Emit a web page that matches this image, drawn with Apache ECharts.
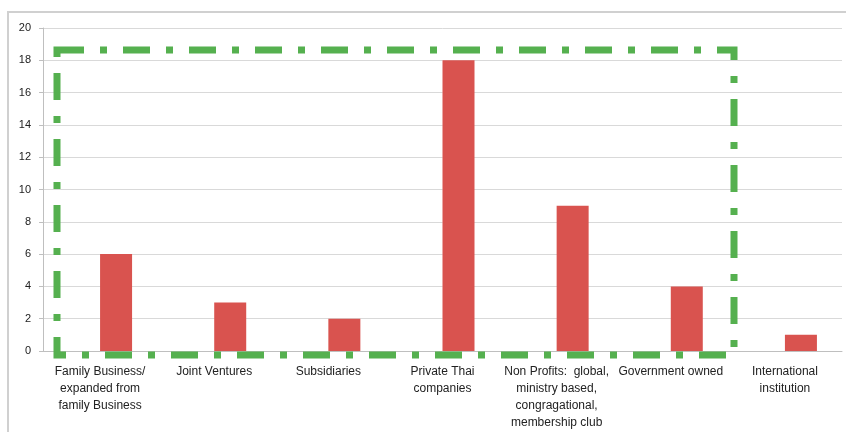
<!DOCTYPE html>
<html><head><meta charset="utf-8">
<script src="https://cdn.jsdelivr.net/npm/echarts@6/dist/echarts.min.js"></script>
<style>html,body{margin:0;padding:0;background:#fff}#c{width:846px;height:432px}</style>
</head><body><div id="c"></div>
<script>
const categories = [
  "Family Business/\nexpanded from\nfamily Business",
  "Joint Ventures",
  "Subsidiaries",
  "Private Thai\ncompanies",
  "Non Profits:  global,\nministry based,\ncongragational,\nmembership club",
  "Government owned",
  "International\ninstitution"
];
const counts = [6, 3, 2, 18, 9, 4, 1];
const placeholder = ['-', '-', '-', '-', '-', '-', '-'];
const yMin = 0, yMax = 20, yStep = 2;

const chart = echarts.init(document.getElementById('c'), null, {renderer: 'canvas'});
const font = "'Liberation Sans Narrow', 'Liberation Sans', sans-serif";
chart.setOption({
  animation: false,
  backgroundColor: '#fff',
  grid: {left: 43, right: 4, top: 28, bottom: 81, containLabel: false},
  xAxis: {
    type: 'category', data: categories,
    axisLine: {lineStyle: {color: '#bfbfbf', width: 1}},
    axisTick: {show: false},
    axisLabel: {interval: 0, hideOverlap: false, color: '#222', fontFamily: font, fontSize: 12, lineHeight: 17, margin: 12}
  },
  yAxis: {
    type: 'value', min: yMin, max: yMax, interval: yStep,
    axisLine: {show: true, lineStyle: {color: '#bfbfbf'}},
    axisTick: {show: true, length: 4, lineStyle: {color: '#bfbfbf'}},
    splitLine: {lineStyle: {color: '#d9d9d9', width: 1}},
    axisLabel: {color: '#222', fontFamily: font, fontSize: 11, margin: 12}
  },
  series: [
    {type: 'bar', data: placeholder, barWidth: 32, barGap: '0%'},
    {type: 'bar', data: counts, barWidth: 32, barGap: '0%', itemStyle: {color: '#d9534f'}}
  ],
  graphic: [
    {type: 'rect', shape: {x: 8, y: 12, width: 846, height: 440}, style: {fill: 'none', stroke: '#d0d0d0', lineWidth: 2}, z: 0},
    {type: 'rect', shape: {x: 57, y: 50, width: 677, height: 305},
     style: {fill: 'none', stroke: '#55b04f', lineWidth: 7, lineDash: [27, 16, 7, 16]}, z: 100}
  ]
});
</script></body></html>
